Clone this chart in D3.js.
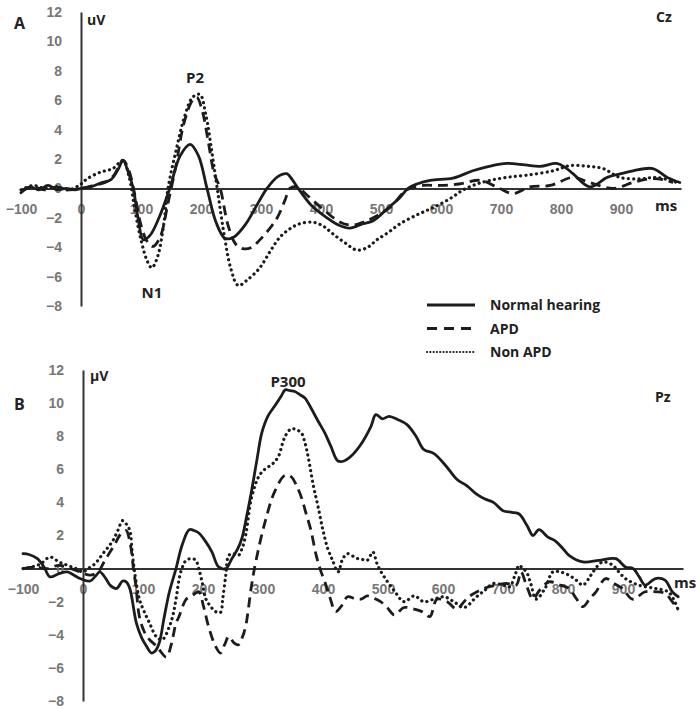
<!DOCTYPE html>
<html>
<head>
<meta charset="utf-8">
<script src="https://cdn.jsdelivr.net/npm/d3@7"></script>
<style>
  body { margin: 0; background: #fff; }
  svg { display: block; font-family: "Open Sans", "Liberation Sans", sans-serif; }
</style>
</head>
<body>
<svg id="chart" width="700" height="709"></svg>
<script>
// tick labels
const xTicks = [-100, 0, 100, 200, 300, 400, 500, 600, 700, 800, 900];
const yTicks = [-8, -6, -4, -2, 0, 2, 4, 6, 8, 10, 12];
const seriesNames = ["Normal hearing", "APD", "Non APD"];

// Panel A (Cz) : [ms, uV]
const cz_normal = [[-100,-0.3],[-85,0.1],[-70,-0.1],[-55,0.2],[-40,-0.1],[-25,0.0],[-10,-0.1],[0,0],[15,0.1],[32,0.35],[50,0.6],[62,1.3],[70,1.9],[78,1.2],[87,0],[95,-2.0],[104,-3.5],[115,-3.2],[130,-2.0],[148,0],[165,2.2],[182,3.0],[196,2.2],[210,0],[225,-2.3],[240,-3.4],[255,-3.3],[275,-2.4],[295,-1.0],[310,0],[328,0.8],[343,1.0],[352,0.6],[362,0],[385,-1.2],[410,-2.0],[430,-2.5],[448,-2.7],[470,-2.4],[487,-2.2],[510,-1.4],[532,-0.6],[545,0],[560,0.3],[582,0.55],[620,0.7],[653,1.2],[680,1.5],[710,1.7],[740,1.6],[765,1.5],[793,1.7],[808,1.4],[820,1.0],[848,0.1],[877,0.75],[900,1.0],[920,1.2],[953,1.35],[977,0.75],[998,0.4]];
const cz_apd = [[-100,-0.2],[-80,0.1],[-60,-0.1],[-40,0.1],[-20,-0.1],[0,0],[20,0.2],[40,0.4],[55,0.9],[70,1.9],[80,1.2],[90,-0.5],[100,-2.5],[110,-3.6],[120,-3.95],[132,-3.3],[145,-1.0],[158,1.5],[172,4.5],[186,6.0],[193,6.2],[202,5.3],[212,3.2],[222,1.0],[232,0],[245,-2.5],[258,-3.8],[270,-4.1],[285,-4.0],[298,-3.5],[313,-2.8],[327,-2.0],[340,-0.8],[348,0],[360,0.1],[375,-0.4],[400,-1.3],[432,-2.3],[453,-2.5],[470,-2.3],[487,-2.0],[515,-1.3],[543,-0.1],[570,0.2],[598,0.2],[630,0.3],[665,0.55],[693,0.1],[720,-0.35],[748,0.1],[782,0.2],[820,0.75],[848,0.4],[887,0],[920,0.4],[948,0.65],[970,0.6],[987,0.4]];
const cz_nonapd = [[-100,-0.1],[-80,0.2],[-60,0],[-40,0.1],[-20,-0.1],[0,0.3],[10,0.65],[32,1.1],[53,1.35],[70,1.9],[80,0.8],[90,-1.5],[100,-3.5],[110,-4.9],[118,-5.4],[128,-4.6],[138,-2.4],[145,0],[158,2.5],[172,4.8],[186,6.2],[198,6.4],[208,5.0],[218,2.5],[227,0],[238,-3.0],[250,-5.5],[262,-6.6],[278,-6.2],[298,-5.4],[315,-4.3],[332,-3.3],[350,-2.7],[365,-2.4],[387,-2.3],[405,-2.6],[420,-3.1],[440,-3.7],[460,-4.2],[478,-4.0],[493,-3.5],[512,-3.0],[532,-2.4],[560,-1.8],[587,-1.3],[615,-0.7],[637,-0.1],[660,0.3],[682,0.55],[710,0.75],[743,0.9],[787,1.2],[815,1.55],[845,1.5],[870,1.35],[898,0.75],[932,0.65],[960,0.75],[993,0.4]];

// Panel B (Pz) : [ms, uV]
const pz_normal = [[-100,0.9],[-90,0.85],[-76,0.6],[-65,0.1],[-55,-0.5],[-40,-0.3],[-26,-0.2],[-15,-0.4],[-5,-0.6],[12,-0.75],[22,-0.4],[28,-0.2],[38,-0.6],[45,-1.0],[56,-1.2],[66,-0.75],[72,-0.8],[78,-1.2],[89,-3.3],[98,-4.2],[106,-4.7],[114,-5.1],[120,-5.0],[127,-4.5],[135,-3.0],[144,-1.4],[155,0],[165,1.4],[177,2.35],[185,2.3],[193,2.15],[205,1.6],[215,1.0],[226,0.1],[238,0],[248,0.6],[258,1.2],[265,1.85],[273,3.2],[281,4.7],[290,6.6],[298,8.2],[308,9.2],[320,9.85],[330,10.4],[337,10.8],[345,10.75],[353,10.7],[362,10.5],[370,10.3],[380,9.7],[392,8.9],[403,8.2],[413,7.4],[425,6.5],[435,6.5],[447,6.8],[463,7.5],[480,8.6],[488,9.3],[499,9.05],[510,9.2],[525,9.0],[540,8.7],[555,8.0],[568,7.2],[585,6.95],[605,6.2],[623,5.4],[640,5.0],[656,4.5],[670,4.2],[684,4.0],[700,3.5],[715,3.4],[727,3.3],[740,2.6],[750,2.0],[760,2.35],[775,1.9],[788,1.65],[800,1.2],[810,0.8],[833,0.4],[860,0.5],[888,0.6],[904,0.1],[917,0],[927,-0.5],[937,-1.0],[954,-0.6],[970,-0.7],[982,-1.4],[992,-1.7]];
const pz_apd = [[-100,0],[-80,0.1],[-60,0],[-40,0.2],[-20,0],[-5,-0.2],[12,-0.4],[25,-0.2],[35,0.4],[45,1.0],[55,1.6],[61,2.0],[72,2.3],[77,1.8],[81,1.0],[84,0],[88,-1.0],[94,-2.9],[102,-3.8],[111,-4.3],[120,-4.6],[127,-4.9],[139,-5.35],[147,-4.6],[155,-3.3],[160,-2.9],[167,-2.2],[172,-1.85],[183,-1.6],[193,-1.4],[201,-2.3],[210,-3.6],[221,-4.7],[229,-5.1],[236,-4.6],[243,-4.1],[252,-4.5],[259,-4.6],[265,-4.2],[271,-3.5],[281,-1.0],[289,0.6],[304,2.9],[320,4.7],[337,5.65],[347,5.55],[356,5.0],[364,4.3],[372,3.3],[380,2.3],[388,0.9],[395,0],[405,-1.0],[412,-1.8],[421,-2.6],[430,-2.3],[441,-1.7],[452,-1.8],[463,-1.85],[474,-1.65],[485,-1.8],[496,-2.0],[508,-2.4],[519,-2.8],[535,-2.35],[552,-2.45],[565,-2.6],[578,-2.9],[590,-1.85],[607,-2.0],[623,-2.45],[635,-2.0],[645,-1.65],[668,-1.2],[689,-1.0],[706,-0.9],[722,-1.0],[730,-0.2],[739,-1.0],[750,-1.85],[760,-1.35],[777,-0.8],[795,-1.0],[810,-1.2],[822,-1.8],[833,-2.3],[845,-1.8],[855,-1.4],[871,-0.6],[885,-0.9],[899,-1.2],[916,-1.85],[937,-1.4],[955,-1.4],[970,-1.5],[982,-2.0],[992,-2.5]];
const pz_nonapd = [[-100,0],[-85,0.1],[-70,0.3],[-55,0.7],[-40,0.4],[-26,0.2],[-12,0],[0,-0.2],[8,0],[17,0.2],[25,0.5],[33,0.9],[42,1.3],[50,1.7],[58,2.3],[66,2.9],[72,2.7],[78,2.3],[82,1.0],[86,-0.2],[94,-1.85],[102,-2.6],[111,-3.3],[122,-4.1],[132,-4.3],[144,-3.5],[150,-2.8],[155,-1.85],[163,-0.2],[172,0.5],[182,0.6],[188,0.5],[193,0],[199,-0.9],[205,-1.85],[213,-2.3],[221,-2.6],[229,-2.65],[233,-1.8],[238,-0.4],[243,0.8],[250,0.9],[259,0.8],[265,1.2],[271,2.0],[281,4.3],[292,5.5],[300,5.9],[309,6.15],[318,6.4],[326,6.8],[332,7.5],[337,8.0],[347,8.45],[355,8.4],[364,8.2],[370,7.6],[375,6.8],[384,5.0],[392,3.7],[400,2.3],[408,1.2],[416,0.5],[425,-0.2],[433,0.6],[441,0.9],[450,0.75],[458,0.6],[466,0.55],[474,0.5],[483,1.0],[491,0.2],[502,-0.5],[519,-1.35],[535,-2.0],[552,-1.65],[568,-2.0],[585,-1.85],[602,-1.7],[618,-2.0],[635,-2.35],[656,-1.7],[670,-1.3],[684,-0.9],[700,-1.0],[711,-1.1],[720,-0.4],[727,0.2],[733,0],[739,-0.2],[747,-1.0],[755,-1.85],[770,-1.2],[783,-0.2],[795,-0.2],[810,-0.4],[822,-0.7],[833,-1.0],[843,-0.6],[850,-0.2],[866,0.4],[883,0.2],[893,-0.2],[904,-0.6],[926,-1.0],[954,-1.2],[975,-1.4],[985,-1.9],[992,-2.5]];

const svg = d3.select("#chart");
const ink = "#1c1c1c";
const styles = [
    { dash: null, cap: "round", w: 2.8 },
    { dash: "10,6", cap: "butt", w: 2.8 },
    { dash: "0.1,5.2", cap: "round", w: 3.2 }
];

function panel(opt) {
    const x = d3.scaleLinear().domain([-100, 1000]).range(opt.xRange);
    const y = d3.scaleLinear().domain([-8, 12]).range(opt.yRange);
    const g = svg.append("g");

    // x axis (zero line)
    const xa = g.append("g")
        .attr("transform", `translate(0,${y(0)})`)
        .call(d3.axisBottom(x).tickValues(xTicks).tickSize(0).tickSizeOuter(0).tickPadding(opt.xPad));
    xa.select(".domain").attr("stroke", "#333").attr("stroke-width", 2);
    xa.selectAll("text").attr("fill", "#777").attr("font-size", "14px").attr("font-weight", 600);

    // y axis
    const ya = g.append("g")
        .attr("transform", `translate(${x(0)},0)`)
        .call(d3.axisLeft(y).tickValues(yTicks).tickSize(0).tickSizeOuter(0).tickPadding(19));
    ya.select(".domain").attr("stroke", "#333").attr("stroke-width", 2);
    ya.selectAll("text").attr("fill", "#777").attr("font-size", "14px").attr("font-weight", 600);

    const line = d3.line()
        .x(d => x(d[0]))
        .y(d => y(d[1]))
        .curve(d3.curveCatmullRom.alpha(0.5));

    opt.series.forEach((s, i) => {
        g.append("path")
            .datum(s)
            .attr("fill", "none")
            .attr("stroke", ink)
            .attr("stroke-width", styles[i].w)
            .attr("stroke-linecap", styles[i].cap)
            .attr("stroke-linejoin", "round")
            .attr("stroke-dasharray", styles[i].dash)
            .attr("d", line);
    });

    // labels
    opt.labels.forEach(l => {
        g.append("text")
            .attr("x", l.x)
            .attr("y", l.y)
            .attr("text-anchor", l.anchor || "start")
            .attr("fill", "#222")
            .attr("font-weight", "bold")
            .attr("font-size", (l.size || 15) + "px")
            .text(l.t);
    });
}

panel({
    xRange: [21, 681],
    yRange: [306, 12],
    xPad: 16,
    series: [cz_normal, cz_apd, cz_nonapd],
    labels: [
        { t: "A", x: 14, y: 29, size: 16 },
        { t: "uV", x: 87, y: 25, size: 14 },
        { t: "P2", x: 195, y: 83, anchor: "middle" },
        { t: "N1", x: 152, y: 298, anchor: "middle" },
        { t: "Cz", x: 656, y: 22, size: 14 },
        { t: "ms", x: 655, y: 211 }
    ]
});

panel({
    xRange: [23, 683],
    yRange: [701, 370],
    xPad: 15,
    series: [pz_normal, pz_apd, pz_nonapd],
    labels: [
        { t: "B", x: 14, y: 410, size: 16 },
        { t: "µV", x: 90, y: 381, size: 14 },
        { t: "P300", x: 288, y: 387, anchor: "middle" },
        { t: "Pz", x: 655, y: 402, size: 14 },
        { t: "ms", x: 674, y: 588 }
    ]
});

// legend
const legend = svg.append("g").attr("transform", "translate(427,305)");
seriesNames.forEach((name, i) => {
    const row = legend.append("g").attr("transform", `translate(0,${i * 23.5})`);
    row.append("line")
        .attr("x1", 0).attr("x2", 48)
        .attr("stroke", ink)
        .attr("stroke-width", i === 2 ? 2.2 : 2.8)
        .attr("stroke-dasharray", i === 0 ? null : (i === 1 ? "10,7" : "0.1,3.2"))
        .attr("stroke-linecap", i === 2 ? "round" : "butt");
    row.append("text")
        .attr("x", 63)
        .attr("y", 5)
        .attr("fill", "#222")
        .attr("font-weight", "bold")
        .attr("font-size", "14px")
        .text(name);
});
</script>
</body>
</html>
